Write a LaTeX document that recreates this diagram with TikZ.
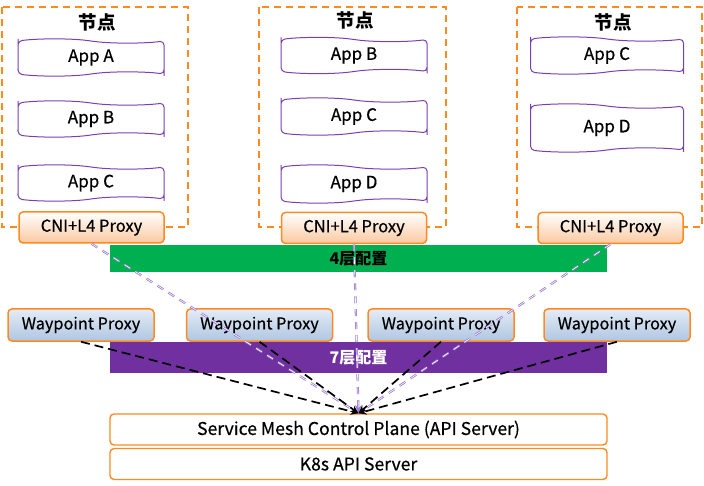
\documentclass[tikz,border=0pt]{standalone}
\usepackage{fontspec}
\setmainfont{Noto Sans CJK SC}
\usetikzlibrary{arrows.meta,shapes.symbols,calc}
\definecolor{orng}{HTML}{FF8A1F}
\definecolor{appv}{HTML}{7A3FB0}
\definecolor{grn}{HTML}{00B050}
\definecolor{purp}{HTML}{7030A0}
\definecolor{lpurp}{HTML}{9C7ACF}
\definecolor{cnibot}{HTML}{FAC9A0}
\definecolor{wptop}{HTML}{E4ECF6}
\definecolor{wpbot}{HTML}{AFC6E2}
\newcommand{\txt}[1]{\fontsize{#1}{#1}\selectfont\addfontfeatures{FakeBold=0.5}}
\tikzset{
  nodebox/.style={draw=orng, line width=1.6pt, dash pattern=on 7pt off 5pt},
  title/.style={font=\fontsize{18.5}{20}\selectfont\bfseries},
  app/.style={tape, draw=appv, line width=1pt, tape bend top=out and in, tape bend bottom=in and out, tape bend height=4pt, rounded corners=4pt, inner sep=0pt, font=\txt{17}},
  cni/.style={draw=orng, line width=1.5pt, rounded corners=4pt, top color=white, bottom color=cnibot, inner sep=0pt, minimum width=145pt, minimum height=31pt, font=\txt{16.5}},
  wp/.style={draw=orng, line width=1.5pt, rounded corners=4pt, top color=wptop, bottom color=wpbot, inner sep=0pt, minimum width=146pt, minimum height=32pt, font=\txt{16.3}},
  bar/.style={inner sep=0pt, minimum width=497pt, font=\fontsize{16}{19}\selectfont\bfseries},
  srv/.style={draw=orng, line width=1.4pt, rounded corners=4pt, fill=white, inner sep=0pt, minimum width=497pt, minimum height=31pt, font=\txt{17.6}},
  blk/.style={draw=black, line width=1.7pt, dash pattern=on 9pt off 5pt, -{Stealth[length=8pt,width=7pt]}},
  vio/.style={draw=lpurp, line width=2.2pt, dash pattern=on 7pt off 6pt},
  viow/.style={draw=white, line width=0.6pt, dash pattern=on 7pt off 6pt},
}
\begin{document}
\begin{tikzpicture}[x=1pt,y=-1pt]
\useasboundingbox (0,0) rectangle (704,486);
% node containers
\draw[nodebox] (2,7) rectangle (188,227);
\draw[nodebox] (259,7) rectangle (446,227);
\draw[nodebox] (517,7) rectangle (702,227);
\node[title] (t1) at (97,22) {节点};
\node[title] (t2) at (355,20) {节点};
\node[title] (t3) at (613,22) {节点};
% apps
\node[app, minimum width=146pt, minimum height=37pt] (a1) at (91,57.5) {App A};
\node[app, minimum width=146pt, minimum height=36pt] (b1) at (91,119) {App B};
\node[app, minimum width=146pt, minimum height=36pt] (c1) at (91,183) {App C};
\node[app, minimum width=146pt, minimum height=36pt] (b2) at (354,55.5) {App B};
\node[app, minimum width=146pt, minimum height=37pt] (c2) at (354,116.5) {App C};
\node[app, minimum width=146pt, minimum height=38pt] (d2) at (354,184) {App D};
\node[app, minimum width=153pt, minimum height=37pt] (c3) at (607,55.5) {App C};
\node[app, minimum width=153pt, minimum height=48pt] (d3) at (607,128) {App D};
% CNI
\node[cni] (n1) at (91.5,227.5) {CNI+L4 Proxy};
\node[cni] (n2) at (354,228) {CNI+L4 Proxy};
\node[cni] (n3) at (610.5,228) {CNI+L4 Proxy};
% bars
\node[bar, fill=grn, minimum height=27pt, text=black] (l4) at (358.5,258.5) {4层配置};
\node[bar, fill=purp, minimum height=31pt, text=white] (l7) at (358.5,357.5) {7层配置};
% waypoints
\node[wp] (w1) at (81,325) {Waypoint Proxy};
\node[wp] (w2) at (259.5,325) {Waypoint Proxy};
\node[wp] (w3) at (441,325) {Waypoint Proxy};
\node[wp] (w4) at (617,325) {Waypoint Proxy};
% servers
\node[srv] (smc) at (358.5,429.5) {Service Mesh Control Plane (API Server)};
\node[srv] (k8s) at (358.5,464) {K8s API Server};
% purple double dashed connectors
\foreach \s in {n1,n2,n3}{
  \draw[vio] (\s.south) -- (smc.north);
  \draw[viow] (\s.south) -- (smc.north);
}
\coordinate (ptip) at ($(smc.north)+(0,-9)$);
\draw[draw=lpurp, line width=0.01pt, -{Stealth[length=8pt,width=7pt,fill=lpurp]}] (ptip) -- (smc.north);
% black dashed connectors
\foreach \s in {w1,w2,w3,w4}{
  \draw[blk] (\s.south) -- (smc.north);
}
\end{tikzpicture}
\end{document}
